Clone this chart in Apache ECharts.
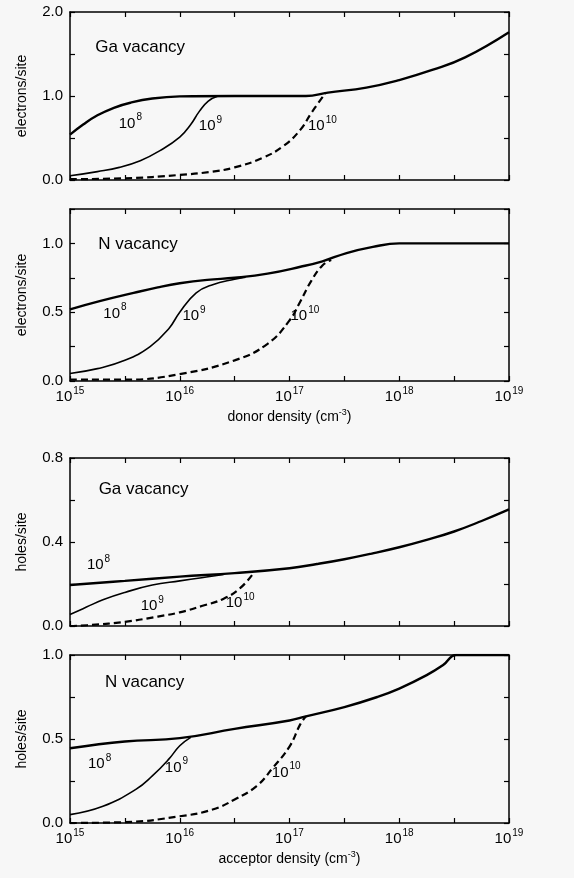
<!DOCTYPE html>
<html>
<head>
<meta charset="UTF-8"/>
<title>vacancy occupancy</title>
<script src="https://cdn.jsdelivr.net/npm/echarts@6/dist/echarts.min.js"></script>
<style>
html, body { margin:0; padding:0; background:#f7f7f7; }
#chart { width:574px; height:878px; }
</style>
</head>
<body>
<div id="chart"></div>
<script type="text/javascript">
// x = log10(density / cm^-3)
var xMin = 15, xMax = 19;

// donor side, Ga vacancy (electrons/site)
var gaDonor8  = [[15,0.54],[15.12,0.66],[15.25,0.77],[15.4,0.86],[15.55,0.92],[15.75,0.97],[16,0.995],[16.5,1.0],[17,1.0],[17.15,1.0],[17.35,1.04],[17.7,1.10],[18,1.19],[18.3,1.31],[18.6,1.46],[19,1.76]];
var gaDonor9  = [[15,0.05],[15.25,0.1],[15.45,0.15],[15.64,0.23],[15.82,0.35],[16,0.51],[16.1,0.66],[16.18,0.82],[16.26,0.94],[16.35,1.0]];
var gaDonor10 = [[15,0.01],[15.5,0.02],[16,0.06],[16.3,0.1],[16.5,0.15],[16.75,0.26],[16.95,0.41],[17.1,0.6],[17.2,0.8],[17.33,1.04]];

// donor side, N vacancy
var nDonor8  = [[15,0.52],[15.27,0.58],[15.58,0.64],[15.8,0.68],[16,0.71],[16.25,0.735],[16.5,0.75],[16.8,0.78],[17.1,0.83],[17.3,0.87],[17.52,0.93],[17.76,0.975],[18,1.0],[18.5,1.0],[19,1.0]];
var nDonor9  = [[15,0.055],[15.25,0.09],[15.5,0.15],[15.73,0.25],[15.9,0.38],[16,0.5],[16.15,0.64],[16.3,0.7],[16.5,0.74],[16.6,0.755]];
var nDonor10 = [[15,0.01],[15.5,0.01],[16,0.05],[16.5,0.15],[16.8,0.27],[17,0.44],[17.1,0.58],[17.2,0.73],[17.3,0.84],[17.38,0.88]];

// acceptor side, Ga vacancy (holes/site)
var gaAcc8  = [[15,0.195],[15.5,0.215],[16,0.235],[16.5,0.252],[17,0.275],[17.25,0.295],[17.5,0.318],[17.75,0.345],[18,0.375],[18.25,0.41],[18.5,0.45],[18.75,0.5],[19,0.555]];
var gaAcc9  = [[15,0.055],[15.15,0.09],[15.3,0.125],[15.5,0.16],[15.75,0.195],[16,0.215],[16.2,0.23],[16.4,0.245]];
var gaAcc10 = [[15,0.0],[15.2,0.005],[15.5,0.02],[15.8,0.045],[16,0.065],[16.2,0.095],[16.4,0.13],[16.55,0.18],[16.67,0.25]];

// acceptor side, N vacancy
var nAcc8  = [[15,0.445],[15.5,0.485],[16,0.505],[16.5,0.56],[17,0.61],[17.15,0.635],[17.5,0.69],[17.8,0.75],[18,0.8],[18.25,0.88],[18.4,0.94],[18.52,1.0],[19,1.0]];
var nAcc9  = [[15,0.05],[15.3,0.1],[15.6,0.2],[15.75,0.28],[15.9,0.38],[16,0.46],[16.1,0.51]];
var nAcc10 = [[15,0.0],[15.5,0.005],[16,0.04],[16.3,0.08],[16.5,0.14],[16.7,0.22],[16.85,0.33],[17,0.455],[17.1,0.59],[17.15,0.635]];

// y scales
var yMaxes = [2.0, 1.25, 0.8, 1.0];
var yTicks = [0.5, 0.25, 0.2, 0.25];
var yLabelSteps = [1.0, 0.5, 0.4, 0.5];
var yNames = ['electrons/site', 'electrons/site', 'holes/site', 'holes/site'];
var xNames = ['', 'donor density (cm{s|-3})', '', 'acceptor density (cm{s|-3})'];

// in-plot text: [x, y, text]
var notes = [
  [[15.64,1.58,'Ga vacancy'],[15.55,0.67,'{b|10}{s|8}'],[16.28,0.64,'{b|10}{s|9}'],[17.3,0.64,'{b|10}{s|10}']],
  [[15.62,0.99,'N vacancy'],[15.41,0.49,'{b|10}{s|8}'],[16.13,0.47,'{b|10}{s|9}'],[17.14,0.47,'{b|10}{s|10}']],
  [[15.67,0.65,'Ga vacancy'],[15.26,0.29,'{b|10}{s|8}'],[15.75,0.095,'{b|10}{s|9}'],[16.55,0.11,'{b|10}{s|10}']],
  [[15.68,0.84,'N vacancy'],[15.27,0.35,'{b|10}{s|8}'],[15.97,0.33,'{b|10}{s|9}'],[16.97,0.30,'{b|10}{s|10}']]
];

var curves = [
  [gaDonor8, gaDonor9, gaDonor10],
  [nDonor8, nDonor9, nDonor10],
  [gaAcc8, gaAcc9, gaAcc10],
  [nAcc8, nAcc9, nAcc10]
];

var font = 'Liberation Sans, Arial, sans-serif';
var ink = '#000';
var gridTops = [12, 209, 458, 655];
var gridHeights = [168, 172, 168, 168];
var supRich = {
  b: { fontSize: 15, fontFamily: font, fill: ink, color: ink, lineHeight: 22 },
  s: { fontSize: 10, fontFamily: font, fill: ink, color: ink, verticalAlign: 'top', lineHeight: 22, padding: [0, 0, 0, 1] }
};
var nameRich = {
  s: { fontSize: 9, fontFamily: font, color: ink, verticalAlign: 'top', lineHeight: 18 }
};

var grids = [], xAxes = [], yAxes = [], series = [];
var lineStyles = [
  { width: 2.4, type: 'solid' },
  { width: 1.6, type: 'solid' },
  { width: 2.2, type: [7, 4] }
];

for (var i = 0; i < 4; i++) {
  grids.push({ left: 70, right: 65, top: gridTops[i], height: gridHeights[i] });
  var showX = xNames[i] !== '';
  var baseX = {
    gridIndex: i, type: 'value', min: xMin, max: xMax, interval: 0.5,
    axisLine: { show: true, onZero: false, lineStyle: { color: ink, width: 1.5 } },
    axisTick: { show: true, inside: true, length: 5, lineStyle: { color: ink, width: 1.2 } },
    splitLine: { show: false }
  };
  xAxes.push(Object.assign({}, baseX, {
    position: 'bottom',
    axisLabel: {
      show: showX, margin: 5,
      formatter: function (v) { return Number.isInteger(v) ? '{b|10}{s|' + v + '}' : ''; },
      rich: supRich
    },
    name: xNames[i], nameLocation: 'middle', nameGap: 27,
    nameTextStyle: { fontSize: 14, fontFamily: font, color: ink, rich: nameRich }
  }));
  xAxes.push(Object.assign({}, baseX, { position: 'top', axisLabel: { show: false } }));

  var step = yLabelSteps[i];
  var baseY = {
    gridIndex: i, type: 'value', min: 0, max: yMaxes[i], interval: yTicks[i],
    axisLine: { show: true, onZero: false, lineStyle: { color: ink, width: 1.5 } },
    axisTick: { show: true, inside: true, length: 5, lineStyle: { color: ink, width: 1.2 } },
    splitLine: { show: false }
  };
  yAxes.push(Object.assign({}, baseY, {
    position: 'left',
    axisLabel: {
      show: true, margin: 7, fontSize: 15, fontFamily: font, color: ink,
      formatter: (function (st) {
        return function (v) {
          var r = v / st;
          return Math.abs(r - Math.round(r)) < 1e-6 ? v.toFixed(1) : '';
        };
      })(step)
    },
    name: yNames[i], nameLocation: 'middle', nameRotate: 90, nameGap: 41,
    nameTextStyle: { fontSize: 14, fontFamily: font, color: ink }
  }));
  yAxes.push(Object.assign({}, baseY, { position: 'right', axisLabel: { show: false } }));

  for (var k = 0; k < 3; k++) {
    series.push({
      type: 'line', xAxisIndex: 2 * i, yAxisIndex: 2 * i,
      data: curves[i][k], showSymbol: false, smooth: 0.45,
      lineStyle: { color: ink, width: lineStyles[k].width, type: lineStyles[k].type },
      silent: true, z: 3 - k
    });
  }
}

var myChart = echarts.init(document.getElementById('chart'));
myChart.setOption({
  backgroundColor: '#f7f7f7',
  animation: false,
  grid: grids,
  xAxis: xAxes,
  yAxis: yAxes,
  series: series
}, true);

// in-plot notes, placed through each grid's own scales
var texts = [];
for (var g = 0; g < 4; g++) {
  notes[g].forEach(function (n) {
    var p = myChart.convertToPixel({ xAxisIndex: 2 * g, yAxisIndex: 2 * g }, [n[0], n[1]]);
    texts.push({
      type: 'text', x: p[0], y: p[1], z: 10, silent: true,
      style: {
        text: n[2], fill: ink, font: '17px ' + font,
        align: 'center', verticalAlign: 'middle', rich: supRich
      }
    });
  });
}
myChart.setOption({ graphic: texts });
</script>
</body>
</html>
